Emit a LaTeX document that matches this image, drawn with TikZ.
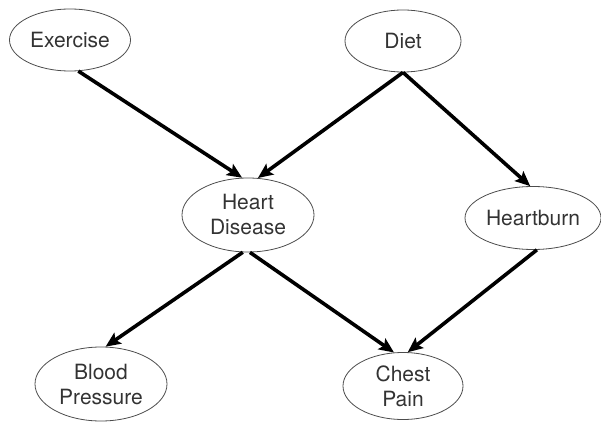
\documentclass[tikz,border=0pt]{standalone}
\usepackage{fontspec}
\setmainfont{TeX Gyre Heros}
\usetikzlibrary{arrows.meta,shapes.geometric}

\begin{document}
\begin{tikzpicture}[x=1pt,y=-1pt,->,>={Stealth[length=15pt,width=13pt,inset=3pt]},
                    line width=3.6pt]
  \tikzstyle{var}=[ellipse,draw=black!70,line width=0.8pt,inner sep=0pt,
                   text=black!80,align=center,
                   font=\fontsize{21}{25}\selectfont]

  \useasboundingbox (0,0) rectangle (601,422);

  \node[var,minimum width=121pt,minimum height=62pt] (Ex) at (70,40)  {Exercise};
  \node[var,minimum width=116pt,minimum height=62pt] (Di) at (403,41) {Diet};
  \node[var,minimum width=132pt,minimum height=74pt] (HD) at (248,215) {Heart\\Disease};
  \node[var,minimum width=136pt,minimum height=63pt] (HB) at (533,218) {Heartburn};
  \node[var,minimum width=132pt,minimum height=74pt] (BP) at (101,384) {Blood\\Pressure};
  \node[var,minimum width=120pt,minimum height=67pt] (CP) at (403,386) {Chest\\Pain};

  \path (Ex.-75) edge (HD.99)
        (Di.south) edge (HD.75)
                   edge (HB.95)
        (HD.-98) edge (BP.83)
        (HD.-87) edge (CP.105)
        (HB.-83) edge (CP.82)
        ;
\end{tikzpicture}
\end{document}
